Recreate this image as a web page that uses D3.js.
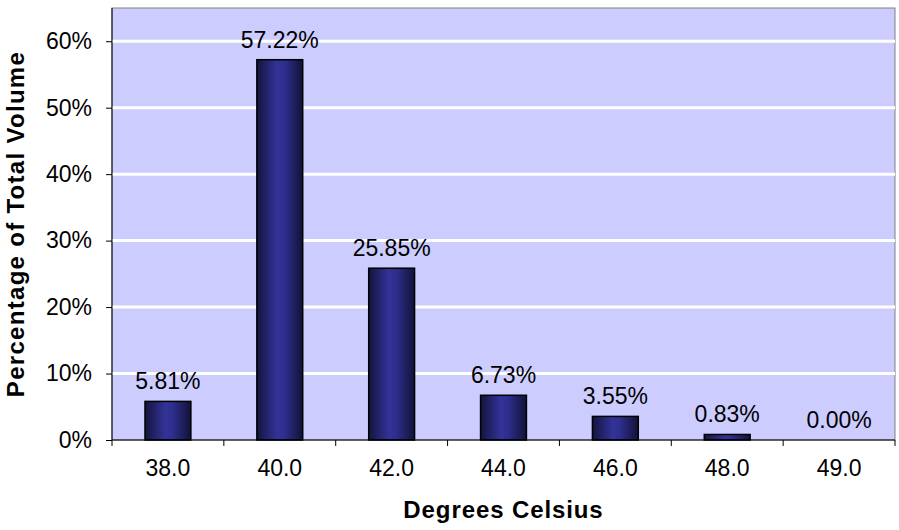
<!DOCTYPE html>
<html><head><meta charset="utf-8">
<script src="https://cdn.jsdelivr.net/npm/d3@7"></script>
<style>body{margin:0;background:#fff}svg{display:block}text{font-family:"Liberation Sans",Arial,sans-serif}</style>
</head><body>
<svg id="c" width="899" height="530"></svg>
<script>
const categories = ["38.0","40.0","42.0","44.0","46.0","48.0","49.0"];
const values = [5.81, 57.22, 25.85, 6.73, 3.55, 0.83, 0.00];
const yTicks = [0,10,20,30,40,50,60];

const svg = d3.select("#c");
const m = {l:112, r:895, t:8, b:440};
const x = d3.scaleBand().domain(categories).range([m.l, m.r]).paddingInner(0.59).paddingOuter(0.295);
const xb = d3.scaleBand().domain(categories).range([m.l, m.r]);
const y = d3.scaleLinear().domain([0,65]).range([m.b, m.t]);

const defs = svg.append("defs");
const g = defs.append("linearGradient").attr("id","bg").attr("x1","0").attr("x2","1").attr("y1","0").attr("y2","0");
g.append("stop").attr("offset","0").attr("stop-color","#14143f");
g.append("stop").attr("offset","0.45").attr("stop-color","#333399");
g.append("stop").attr("offset","0.6").attr("stop-color","#2e2e8c");
g.append("stop").attr("offset","1").attr("stop-color","#121238");

svg.append("rect").attr("x",m.l).attr("y",m.t).attr("width",m.r-m.l).attr("height",m.b-m.t)
  .attr("fill","#ccccff").attr("stroke","#808080").attr("stroke-width",1);

svg.append("g").selectAll("line").data(yTicks.filter(d=>d>0)).join("line")
  .attr("x1",m.l).attr("x2",m.r).attr("y1",d=>y(d)).attr("y2",d=>y(d))
  .attr("stroke","#fff").attr("stroke-width",3);

svg.append("g").selectAll("rect").data(values).join("rect")
  .attr("x",(d,i)=>x(categories[i])).attr("width",x.bandwidth())
  .attr("y",d=>y(d)).attr("height",d=>m.b-y(d))
  .attr("fill","url(#bg)").attr("stroke","#000").attr("stroke-width",1.5);

svg.append("g").selectAll("text").data(values).join("text")
  .attr("x",(d,i)=>x(categories[i])+x.bandwidth()/2).attr("y",d=>y(d)-12)
  .attr("text-anchor","middle").attr("font-size",23).attr("fill","#000")
  .text(d=>d.toFixed(2)+"%");

// axes
const ya = svg.append("g").attr("transform",`translate(${m.l},0)`)
  .call(d3.axisLeft(y).tickValues(yTicks).tickFormat(d=>d+"%").tickSize(6).tickPadding(14));
ya.select(".domain").attr("stroke","#000").attr("d",`M0,${m.t}V${m.b}`);
ya.selectAll("text").attr("font-size",23).attr("fill","#000").style("font-family","Liberation Sans, Arial, sans-serif");
ya.selectAll(".tick line").attr("stroke","#000");

const xa = svg.append("g").attr("transform",`translate(0,${m.b})`);
xa.append("line").attr("x1",m.l).attr("x2",m.r).attr("stroke","#000");
xa.selectAll("line.t").data(categories.concat(["end"])).join("line").attr("class","t")
  .attr("x1",(d,i)=>m.l+i*xb.bandwidth()).attr("x2",(d,i)=>m.l+i*xb.bandwidth())
  .attr("y1",0).attr("y2",6).attr("stroke","#000");
xa.selectAll("text").data(categories).join("text")
  .attr("x",d=>xb(d)+xb.bandwidth()/2).attr("y",36)
  .attr("text-anchor","middle").attr("font-size",23).attr("fill","#000").text(d=>d);

svg.append("text").attr("x",(m.l+m.r)/2).attr("y",518).attr("text-anchor","middle")
  .attr("font-size",24).attr("font-weight","bold").attr("letter-spacing",0.9).text("Degrees Celsius");
svg.append("text").attr("transform",`translate(24,${(m.t+m.b)/2}) rotate(-90)`).attr("text-anchor","middle")
  .attr("font-size",24).attr("font-weight","bold").attr("letter-spacing",1.3).text("Percentage of Total Volume");
</script>
</body></html>
